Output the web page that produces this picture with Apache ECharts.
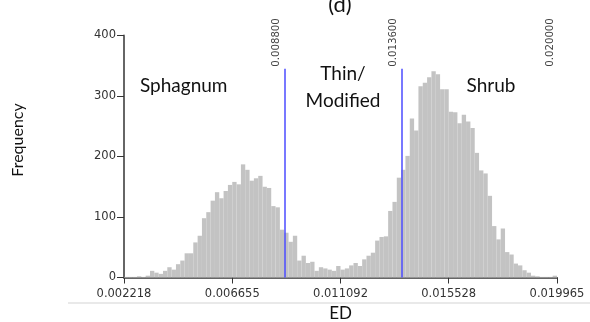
<!DOCTYPE html>
<html>
<head>
<meta charset="utf-8">
<script src="https://cdn.jsdelivr.net/npm/echarts@6/dist/echarts.min.js"></script>
<style>
  html, body { margin: 0; padding: 0; background: #fff; }
  #chart { width: 590px; height: 322px; }
</style>
</head>
<body>
<div id="chart"></div>
<script>
// histogram of ED, 100 bins between the first and last tick
const binStart = 0.002218
const binEnd = 0.019965
const counts = [
  1, 1, 1, 2, 1, 3, 11, 8, 6, 11, 17, 13, 22, 28, 40, 40, 58, 69, 98, 108,
  127, 141, 131, 143, 153, 158, 154, 187, 178, 160, 164, 168, 150, 148, 118, 116, 79, 74, 59, 69,
  28, 36, 24, 26, 11, 17, 15, 13, 11, 19, 13, 15, 20, 24, 19, 30, 36, 41, 61, 67,
  68, 110, 125, 165, 178, 201, 263, 243, 316, 322, 331, 341, 336, 311, 311, 274, 273, 255, 269, 258,
  247, 206, 177, 172, 135, 85, 63, 81, 42, 38, 23, 20, 12, 8, 3, 2, 1, 1, 1, 3
]
const xTicks = [0.002218, 0.006655, 0.011092, 0.015528, 0.019965]
const xTickLabels = ['0.002218', '0.006655', '0.011092', '0.015528', '0.019965']
const thresholds = [0.0088, 0.0136, 0.02]
const thresholdLabels = ['0.008800', '0.013600', '0.020000']
const thresholdTop = 345
const classNames = ['Sphagnum', 'Thin/\nModified', 'Shrub']

const binWidth = (binEnd - binStart) / counts.length
const bins = counts.map((c, i) => [binStart + i * binWidth, binStart + (i + 1) * binWidth, c])

const chart = echarts.init(document.getElementById('chart'))

const option = {
  animation: false,
  grid: { left: 124, right: 33, top: 35.5, bottom: 44.5, containLabel: false, outerBoundsMode: 'none' },
  xAxis: {
    type: 'value',
    min: binStart,
    max: binEnd,
    name: 'ED',
    nameLocation: 'middle',
    nameGap: 28,
    nameTextStyle: { fontFamily: 'Lato', fontSize: 17, color: '#111' },
    axisLine: { lineStyle: { color: '#666', width: 2 } },
    axisTick: { show: true, length: 6, lineStyle: { color: '#333' }, customValues: xTicks },
    axisLabel: {
      customValues: xTicks,
      margin: 11,
      fontFamily: 'DejaVu Sans',
      fontSize: 11.5,
      color: '#333',
      formatter: v => xTickLabels[xTicks.indexOf(v)]
    },
    splitLine: { show: false }
  },
  yAxis: {
    type: 'value',
    min: 0,
    max: 400,
    interval: 100,
    axisLine: { show: true, lineStyle: { color: '#666', width: 2 } },
    axisTick: { show: true, length: 7, lineStyle: { color: '#333' } },
    axisLabel: { margin: 8, fontFamily: 'DejaVu Sans', fontSize: 11.5, color: '#333' },
    splitLine: { show: false }
  },
  series: [
    {
      type: 'custom',
      name: 'Frequency',
      data: bins,
      encode: { x: [0, 1], y: 2 },
      renderItem(params, api) {
        const p0 = api.coord([api.value(0), api.value(2)])
        const p1 = api.coord([api.value(1), 0])
        return {
          type: 'rect',
          shape: { x: p0[0], y: p0[1], width: p1[0] - p0[0], height: p1[1] - p0[1] },
          style: { fill: '#c3c3c3' }
        }
      }
    },
    {
      type: 'line',
      data: [],
      clip: false,
      silent: true,
      markLine: {
        symbol: 'none',
        silent: true,
        label: { show: false },
        lineStyle: { color: '#4b4bff', width: 1.5, type: 'solid' },
        data: thresholds.map(t => [{ coord: [t, 0] }, { coord: [t, thresholdTop] }])
      }
    }
  ]
}

chart.setOption(option)

// annotations placed through the axes
const px = v => chart.convertToPixel({ xAxisIndex: 0 }, v)
const py = v => chart.convertToPixel({ yAxisIndex: 0 }, v)
const graphics = []

thresholds.forEach((t, i) => {
  graphics.push({
    type: 'text',
    x: px(t) - 3,
    y: py(thresholdTop) - 2,
    rotation: Math.PI / 2,
    style: {
      text: thresholdLabels[i],
      font: '10.2px "DejaVu Sans"',
      fill: '#444',
      align: 'left',
      verticalAlign: 'bottom'
    }
  })
})

graphics.push(
  {
    type: 'text', x: 140, y: 86,
    style: { text: classNames[0], font: '19px Lato', fill: '#111', align: 'left', verticalAlign: 'middle' }
  },
  {
    type: 'text', x: 343, y: 87,
    style: { text: classNames[1], font: '19px Lato', fill: '#111', align: 'center', verticalAlign: 'middle', lineHeight: 27 }
  },
  {
    type: 'text', x: 491, y: 86,
    style: { text: classNames[2], font: '19px Lato', fill: '#111', align: 'center', verticalAlign: 'middle' }
  },
  {
    type: 'text', x: 340, y: 5,
    style: { text: '(d)', font: '22px Lato', fill: '#111', align: 'center', verticalAlign: 'middle' }
  },
  {
    type: 'text', x: 18, y: 140, rotation: Math.PI / 2,
    style: { text: 'Frequency', font: '16px Lato', fill: '#111', align: 'center', verticalAlign: 'middle' }
  },
  {
    type: 'line',
    shape: { x1: 68, y1: 303, x2: 590, y2: 303 },
    style: { stroke: '#e2e2e2', lineWidth: 1.5 }
  }
)

chart.setOption({ graphic: graphics })
</script>
</body>
</html>
